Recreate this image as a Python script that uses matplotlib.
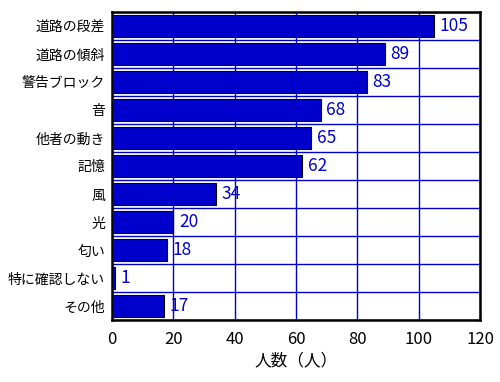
import numpy as np
import matplotlib
matplotlib.use("Agg")
import matplotlib.pyplot as plt

plt.rcParams['font.family'] = ['Noto Sans CJK JP', 'DejaVu Sans']

categories = ["道路の段差", "道路の傾斜", "警告ブロック", "音", "他者の動き", "記憶",
              "風", "光", "匂い", "特に確認しない", "その他"]
counts = [105, 89, 83, 68, 65, 62, 34, 20, 18, 1, 17]
xticks = [0, 20, 40, 60, 80, 100, 120]

BLUE = "#0000CC"

fig = plt.figure(figsize=(5.0, 3.82), dpi=100)
ax = fig.add_axes([0.224, 0.162, 0.736, 0.807])

y = np.arange(len(categories))
ax.barh(y, counts, height=0.78, color=BLUE, edgecolor="black", linewidth=0.8, zorder=3)

for yi, v in zip(y, counts):
    ax.text(v + 1.8, yi, str(v), color=BLUE, fontsize=12.5, va="center", ha="left", zorder=4)

ax.set_xlim(0, 120)
ax.set_ylim(len(categories) - 0.5, -0.5)
ax.set_xticks(xticks)
ax.set_xticklabels([str(t) for t in xticks], fontsize=12)
ax.set_yticks(y)
ax.set_yticklabels(categories, fontsize=10)
ax.set_yticks(np.arange(-0.5, len(categories), 1.0), minor=True)
ax.tick_params(axis="y", which="both", length=0, pad=5)
ax.tick_params(axis="x", length=0, pad=8)

ax.grid(True, axis="x", color=BLUE, linewidth=1.0, zorder=0)
ax.grid(True, axis="y", which="minor", color=BLUE, linewidth=1.0, zorder=0)
ax.grid(False, axis="y", which="major")

for s in ax.spines.values():
    s.set_linewidth(1.8)
    s.set_color("black")

ax.set_xlabel("人数（人）", fontsize=12, labelpad=3)

fig.savefig("out.png", dpi=100)
